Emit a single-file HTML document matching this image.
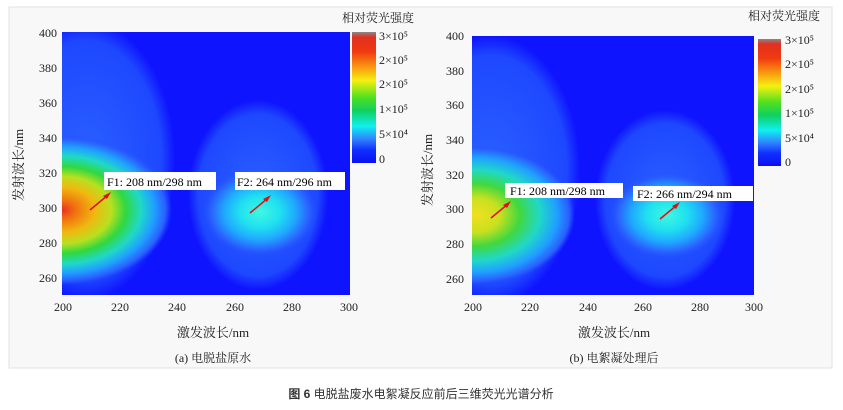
<!DOCTYPE html>
<html><head><meta charset="utf-8"><style>
body{margin:0;background:#fff;width:843px;height:405px;overflow:hidden;font-family:"Liberation Serif","Noto Serif CJK SC",serif;}
</style></head><body>
<svg width="843" height="405" xmlns="http://www.w3.org/2000/svg" font-family="Liberation Serif, Noto Serif CJK SC, serif">
<defs>
<linearGradient id="cb" x1="0" y1="0" x2="0" y2="1">
<stop offset="0" stop-color="#888"/><stop offset="0.04" stop-color="#e03020"/><stop offset="0.15" stop-color="#f03a10"/>
<stop offset="0.27" stop-color="#fa9a10"/><stop offset="0.37" stop-color="#f5f010"/><stop offset="0.5" stop-color="#50e020"/>
<stop offset="0.6" stop-color="#10d060"/><stop offset="0.72" stop-color="#10f0f0"/><stop offset="0.82" stop-color="#3080ff"/>
<stop offset="0.9" stop-color="#1030ff"/><stop offset="1" stop-color="#0a10f0"/></linearGradient>
<radialGradient id="g1"><stop offset="0" stop-color="#e83020"/><stop offset="0.12" stop-color="#f07010"/><stop offset="0.3" stop-color="#f0b810"/><stop offset="0.45" stop-color="#b8e020"/><stop offset="0.58" stop-color="#30d840"/><stop offset="0.72" stop-color="#20d8c8"/><stop offset="0.84" stop-color="#20a0ff"/><stop offset="0.94" stop-color="#2a60ff"/><stop offset="1" stop-color="#2050ff" stop-opacity="0"/></radialGradient>
<radialGradient id="g1b"><stop offset="0" stop-color="#f0e020"/><stop offset="0.25" stop-color="#c8e020"/><stop offset="0.45" stop-color="#40d840"/><stop offset="0.65" stop-color="#20d8c8"/><stop offset="0.82" stop-color="#20a0ff"/><stop offset="0.94" stop-color="#2a60ff"/><stop offset="1" stop-color="#2050ff" stop-opacity="0"/></radialGradient>
<radialGradient id="g2"><stop offset="0" stop-color="#40f8e0"/><stop offset="0.35" stop-color="#20e0f0"/><stop offset="0.62" stop-color="#20a8ff"/><stop offset="0.85" stop-color="#2a60ff"/><stop offset="1" stop-color="#2050ff" stop-opacity="0"/></radialGradient>
<radialGradient id="halo"><stop offset="0" stop-color="#2a60ff"/><stop offset="0.85" stop-color="#1e48ff"/><stop offset="1" stop-color="#1e48ff" stop-opacity="0"/></radialGradient>
<clipPath id="c1"><rect x="62" y="32" width="288" height="263"/></clipPath>
<clipPath id="c2"><rect x="472" y="36" width="282" height="259"/></clipPath>
</defs>
<rect x="9" y="7" width="823" height="361" fill="#f8f8f8" stroke="#e2e2e2"/>
<rect x="62" y="32" width="288" height="263" fill="#0f14ff"/>
<g clip-path="url(#c1)">
<ellipse cx="85" cy="160" rx="90" ry="140" fill="url(#halo)"/>
<ellipse cx="258" cy="195" rx="70" ry="95" fill="url(#halo)"/>
<ellipse cx="62" cy="210" rx="110" ry="75" fill="url(#g1)"/>
<ellipse cx="260" cy="212" rx="58" ry="45" fill="url(#g2)"/>
</g>
<rect x="352" y="32" width="24" height="131" fill="url(#cb)"/>
<g font-size="12" fill="#222">
<text x="342" y="22" font-size="12">相对荧光强度</text>
<text x="379" y="40">3×10⁵</text><text x="379" y="64">2×10⁵</text><text x="379" y="88">2×10⁵</text><text x="379" y="113">1×10⁵</text><text x="379" y="138">5×10⁴</text><text x="379" y="163">0</text>
<g text-anchor="end"><text x="57" y="37">400</text><text x="57" y="72">380</text><text x="57" y="107">360</text><text x="57" y="142">340</text><text x="57" y="177">320</text><text x="57" y="212">300</text><text x="57" y="247">280</text><text x="57" y="282">260</text></g>
<g text-anchor="middle"><text x="63" y="311">200</text><text x="120" y="311">220</text><text x="177" y="311">240</text><text x="235" y="311">260</text><text x="292" y="311">280</text><text x="349" y="311">300</text>
<text x="213" y="337" font-size="13">激发波长/nm</text><text x="213" y="362" font-size="12">(a) 电脱盐原水</text></g>
<text transform="translate(23,165) rotate(-90)" text-anchor="middle" font-size="13">发射波长/nm</text>
</g>
<rect x="104" y="172" width="112" height="18" fill="#fff"/><text x="107" y="186" font-size="12">F1: 208 nm/298 nm</text>
<rect x="235" y="172" width="110" height="18" fill="#fff"/><text x="237" y="186" font-size="12">F2: 264 nm/296 nm</text>
<line x1="90" y1="210" x2="108" y2="195" stroke="#e01010" stroke-width="1.5"/><polygon points="111,192 103,196 107,199" fill="#e01010"/>
<line x1="250" y1="213" x2="268" y2="198" stroke="#e01010" stroke-width="1.5"/><polygon points="271,195 263,199 267,202" fill="#e01010"/>
<rect x="472" y="36" width="282" height="259" fill="#0f14ff"/>
<g clip-path="url(#c2)">
<ellipse cx="490" cy="170" rx="90" ry="135" fill="url(#halo)"/>
<ellipse cx="665" cy="200" rx="70" ry="90" fill="url(#halo)"/>
<ellipse cx="475" cy="215" rx="100" ry="70" fill="url(#g1b)"/>
<ellipse cx="667" cy="215" rx="58" ry="44" fill="url(#g2)"/>
</g>
<rect x="758" y="39" width="23" height="127" fill="url(#cb)"/>
<g font-size="12" fill="#222">
<text x="748" y="20">相对荧光强度</text>
<text x="785" y="44">3×10⁵</text><text x="785" y="68">2×10⁵</text><text x="785" y="93">2×10⁵</text><text x="785" y="117">1×10⁵</text><text x="785" y="142">5×10⁴</text><text x="785" y="166">0</text>
<g text-anchor="end"><text x="464" y="40">400</text><text x="464" y="75">380</text><text x="464" y="109">360</text><text x="464" y="144">340</text><text x="464" y="179">320</text><text x="464" y="213">300</text><text x="464" y="248">280</text><text x="464" y="283">260</text></g>
<g text-anchor="middle"><text x="473" y="311">200</text><text x="530" y="311">220</text><text x="588" y="311">240</text><text x="643" y="311">260</text><text x="700" y="311">280</text><text x="754" y="311">300</text>
<text x="614" y="337" font-size="13">激发波长/nm</text><text x="614" y="362">(b) 电絮凝处理后</text></g>
<text transform="translate(432,170) rotate(-90)" text-anchor="middle" font-size="13">发射波长/nm</text>
</g>
<rect x="505" y="183" width="118" height="15" fill="#fff"/><text x="510" y="195" font-size="12">F1: 208 nm/298 nm</text>
<rect x="633" y="186" width="120" height="15" fill="#fff"/><text x="637" y="198" font-size="12">F2: 266 nm/294 nm</text>
<line x1="491" y1="218" x2="508" y2="204" stroke="#e01010" stroke-width="1.5"/><polygon points="511,201 503,205 507,208" fill="#e01010"/>
<line x1="660" y1="219" x2="677" y2="205" stroke="#e01010" stroke-width="1.5"/><polygon points="680,202 672,206 676,209" fill="#e01010"/>
<text x="421" y="398" text-anchor="middle" font-size="12" font-family="Liberation Sans, Noto Sans CJK SC, sans-serif" fill="#333"><tspan font-weight="bold">图 6</tspan>  电脱盐废水电絮凝反应前后三维荧光光谱分析</text>
</svg>
</body></html>
